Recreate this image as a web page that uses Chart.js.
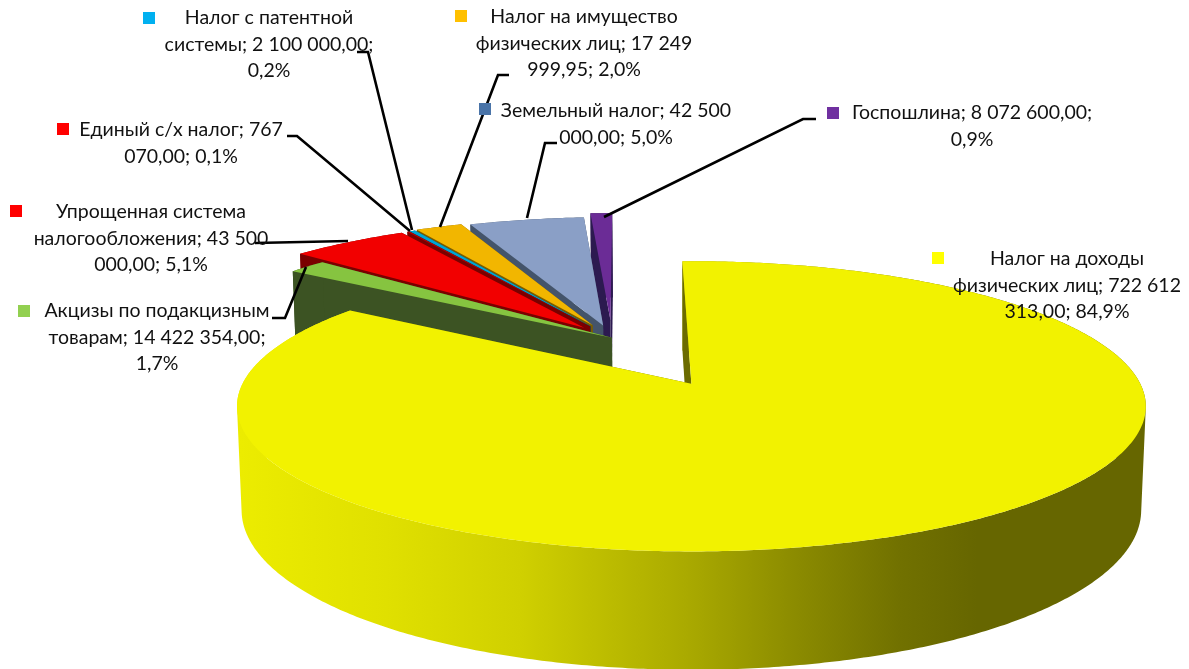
<!DOCTYPE html>
<html lang="ru">
<head>
<meta charset="utf-8">
<title>Налоговые доходы</title>
<style>
  html, body { margin: 0; padding: 0; background: #ffffff; overflow: hidden; }
  canvas { display: block; }
</style>
</head>
<body>
<canvas id="taxChart" width="1189" height="669"></canvas>
<script src="https://cdn.jsdelivr.net/npm/chart.js@4/dist/chart.umd.min.js"></script>
<script>
// ==========================================================================
// Data
// ==========================================================================

const categories = [
  "Налог на доходы физических лиц",
  "Акцизы по подакцизным товарам",
  "Упрощенная система налогообложения",
  "Единый с/х налог",
  "Налог с патентной системы",
  "Налог на имущество физических лиц",
  "Земельный налог",
  "Госпошлина",
];
const seriesValues = [
  722612313, 14422354, 43500000, 767070, 2100000, 17249999.95, 42500000,
  8072600,
];

// Label text, line by line as it wraps in the picture
const labelLines = [
  ["Налог на доходы", "физических лиц; 722 612", "313,00; 84,9%"],
  ["Акцизы по подакцизным", "товарам; 14 422 354,00;", "1,7%"],
  ["Упрощенная система", "налогообложения; 43 500", "000,00; 5,1%"],
  ["Единый с/х налог; 767", "070,00; 0,1%"],
  ["Налог с патентной", "системы; 2 100 000,00;", "0,2%"],
  ["Налог на имущество", "физических лиц; 17 249", "999,95; 2,0%"],
  ["Земельный налог; 42 500", "000,00; 5,0%"],
  ["Госпошлина; 8 072 600,00;", "0,9%"],
];

// ==========================================================================
// Styles and layout
// ==========================================================================

const topColors = ["#f2f200", "#86c440", "#f20000", "#c00000", "#00a5d6", "#f2b600", "#8a9fc6", "#6b2c96"];
const wallColors = ["#6b6b00", "#3c5323", "#7a0000", "#7a0000", "#00586f", "#7a5c00", "#44546a", "#2c1a50"];
const markerColors = ["#ffff00", "#92d050", "#ff0000", "#ff0000", "#00b0f0", "#ffc000", "#4a74a8", "#7030a0"];
const sliceOffsets = [78, 0, 21, 21, 21, 22, 20, 28];

const labelCenters = [1067, 157, 151, 181, 269, 584, 616, 972];
const labelFirstLines = [259, 311, 212, 130, 18, 17, 111, 113];
const markerSpots = [[932, 252], [18, 305], [10, 205], [57, 123], [143, 12], [455, 10], [479, 103], [827, 107]];
const leaderPaths = [
  [],
  [[272, 318], [285, 318], [306, 267]],
  [[255, 243], [348, 241]],
  [[287, 136], [297, 136], [410, 231]],
  [[357, 52], [368, 52], [412, 230]],
  [[509, 75], [498, 75], [440, 227]],
  [[557, 143], [545, 143], [527, 218]],
  [[816, 119], [803, 119], [604, 217]],
];

const wallStops = [
  [240, "#ecec00"], [387, "#e0e000"], [520, "#d0d000"], [686, "#aaaa00"],
  [800, "#8a8a00"], [900, "#717100"], [977, "#666600"], [1148, "#666600"],
];

// ==========================================================================
// Projection of the pie plane on the screen (perspective, z goes down)
// ==========================================================================

function project(u, v, z) {
  const pu = u - 0.183;
  const pv = v - 0.351;
  const w = 1 - 0.155 * pv + 0.01 * z;
  return [690 + (449.5 * pu) / w, 385 + (142 * pv + 103 * z) / w];
}

function addPolygon(ctx, points) {
  points.forEach((p, i) => (i ? ctx.lineTo(p[0], p[1]) : ctx.moveTo(p[0], p[1])));
  ctx.closePath();
}

function signedArea(points) {
  let area = 0;
  points.forEach((p, i) => {
    const q = points[(i + 1) % points.length];
    area += p[0] * q[1] - q[0] * p[1];
  });
  return area;
}

function drawSlice3d(ctx, el, index) {
  const R = el.outerRadius;
  const mid = (el.startAngle + el.endAngle) / 2;
  const ox = (Math.cos(mid) * el.options.offset) / R;
  const oy = (Math.sin(mid) * el.options.offset) / R;

  const rim = [];
  const steps = Math.max(2, Math.ceil((el.endAngle - el.startAngle) / 0.01));
  for (let i = 0; i <= steps; i++) {
    const a = el.startAngle + ((el.endAngle - el.startAngle) * i) / steps;
    rim.push([ox + Math.cos(a), oy + Math.sin(a)]);
  }
  const at = (p, z) => project(p[0], p[1], z);
  const apex = [ox, oy];

  // outer wall, one quad per step all wound the same way so nonzero fill keeps the silhouette
  let wallFill = wallColors[index];
  if (index === 0) {
    const grad = ctx.createLinearGradient(0, 0, 1189, 0);
    wallStops.forEach((s) => grad.addColorStop(s[0] / 1189, s[1]));
    wallFill = grad;
  }
  ctx.fillStyle = wallFill;
  ctx.beginPath();
  for (let i = 0; i < steps; i++) {
    const quad = [at(rim[i], 0), at(rim[i + 1], 0), at(rim[i + 1], 1), at(rim[i], 1)];
    addPolygon(ctx, signedArea(quad) < 0 ? quad.reverse() : quad);
  }
  ctx.fill();

  // the two cut faces
  ctx.fillStyle = wallColors[index];
  [rim[0], rim[rim.length - 1]].forEach((edge) => {
    ctx.beginPath();
    addPolygon(ctx, [at(apex, 0), at(edge, 0), at(edge, 1), at(apex, 1)]);
    ctx.fill();
  });

  // top face
  ctx.fillStyle = el.options.backgroundColor;
  ctx.beginPath();
  addPolygon(ctx, [at(apex, 0)].concat(rim.map((p) => at(p, 0))));
  ctx.fill();
}

const pie3dPlugin = {
  id: "pie3d",
  beforeDatasetsDraw(chart) {
    const ctx = chart.ctx;
    const arcs = chart.getDatasetMeta(0).data;
    ctx.save();
    // back slices first, last slice in the data at the very back, yellow on top
    for (let i = arcs.length - 1; i >= 0; i--) {
      drawSlice3d(ctx, arcs[i], i);
    }
    ctx.restore();
    return false;
  },
  afterDraw(chart) {
    const ctx = chart.ctx;
    ctx.save();
    ctx.strokeStyle = "#000000";
    ctx.lineWidth = 2.6;
    ctx.lineJoin = "miter";
    leaderPaths.forEach((path) => {
      if (!path.length) return;
      ctx.beginPath();
      path.forEach((p, i) => (i ? ctx.lineTo(p[0], p[1]) : ctx.moveTo(p[0], p[1])));
      ctx.stroke();
    });
    markerSpots.forEach((m, i) => {
      ctx.fillStyle = markerColors[i];
      ctx.fillRect(m[0], m[1], 12, 12);
    });
    ctx.fillStyle = "#111111";
    ctx.font = '19.5px Lato, "Open Sans", sans-serif';
    ctx.textAlign = "center";
    ctx.textBaseline = "middle";
    labelLines.forEach((lines, i) => {
      lines.forEach((line, n) => {
        ctx.fillText(line, labelCenters[i], labelFirstLines[i] + n * 26.5);
      });
    });
    ctx.restore();
  },
};

new Chart(document.getElementById("taxChart"), {
  type: "pie",
  data: {
    labels: categories,
    datasets: [
      {
        data: seriesValues,
        backgroundColor: topColors,
        offset: sliceOffsets,
        borderWidth: 0,
      },
    ],
  },
  options: {
    responsive: false,
    animation: false,
    rotation: -1.3,
    radius: 200,
    events: [],
    plugins: {
      legend: { display: false },
      tooltip: { enabled: false },
    },
  },
  plugins: [pie3dPlugin],
});
</script>
</body>
</html>
